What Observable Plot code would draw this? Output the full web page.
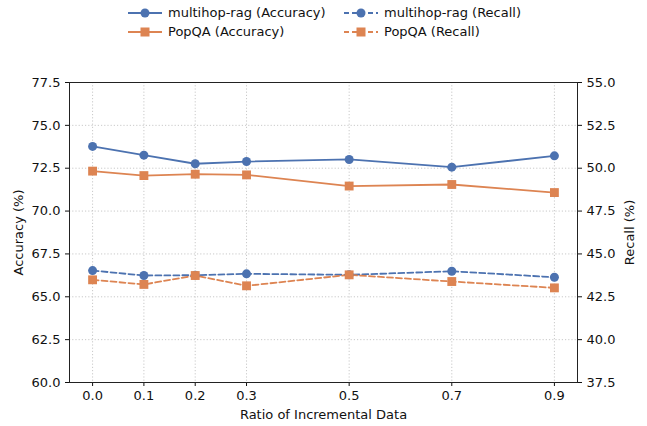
<!DOCTYPE html>
<html>
<head>
<meta charset="utf-8">
<script src="https://cdn.jsdelivr.net/npm/d3@7"></script>
<script src="https://cdn.jsdelivr.net/npm/@observablehq/plot@0.6"></script>
<style>
  body { margin: 0; background: #fff; font-family: "DejaVu Sans", sans-serif; }
  #wrap { position: relative; width: 647px; height: 426px; }
  #legend { position: relative; width: 647px; height: 45px; font-size: 13px; color: #111; }
  .item { position: absolute; display: flex; align-items: center; white-space: nowrap; }
  .item svg { margin-right: 6px; }
</style>
</head>
<body>
<div id="wrap">
  <div id="legend"></div>
  <div id="chart"></div>
</div>
<script>
const ratios = [0, 0.1, 0.2, 0.3, 0.5, 0.7, 0.9];
const mhAcc  = [73.77, 73.26, 72.76, 72.89, 73.01, 72.56, 73.22];
const popAcc = [72.33, 72.07, 72.15, 72.11, 71.46, 71.55, 71.08];
const mhRec  = [44.03, 43.74, 43.76, 43.84, 43.78, 43.99, 43.64];
const popRec = [43.49, 43.22, 43.74, 43.14, 43.78, 43.39, 43.02];
const accTicks = [60, 62.5, 65, 67.5, 70, 72.5, 75, 77.5];
const recTicks = [37.5, 40, 42.5, 45, 47.5, 50, 52.5, 55];
const seriesNames = ["multihop-rag (Accuracy)", "multihop-rag (Recall)", "PopQA (Accuracy)", "PopQA (Recall)"];

const BLUE = "#4c72b0", ORANGE = "#dd8452";
// recall axis is aligned to accuracy axis: 37.5↔60, 55↔77.5
const OFFSET = 22.5;

const rows = (vals, shift) => ratios.map((r, i) => ({x: r, y: vals[i] + shift}));
const mhA = rows(mhAcc, 0), pA = rows(popAcc, 0);
const mhR = rows(mhRec, OFFSET), pR = rows(popRec, OFFSET);

const lineW = 1.8;
const chart = Plot.plot({
  width: 647,
  height: 381,
  marginTop: 37,
  marginBottom: 44,
  marginLeft: 69,
  marginRight: 70,
  style: {fontFamily: "DejaVu Sans, sans-serif", fontSize: "13px", color: "#111"},
  x: {domain: [-0.045, 0.945]},
  y: {domain: [60, 77.5]},
  marks: [
    Plot.gridX(ratios, {stroke: "#bbb", strokeOpacity: 0.8, strokeDasharray: "1.2,2"}),
    Plot.gridY(accTicks, {stroke: "#bbb", strokeOpacity: 0.8, strokeDasharray: "1.2,2"}),
    Plot.axisX({ticks: ratios, tickFormat: d3.format(".1f"), tickSize: 4, label: "Ratio of Incremental Data", labelAnchor: "center", labelArrow: "none", labelOffset: 36, tickPadding: 4}),
    Plot.axisY({ticks: accTicks, tickFormat: d3.format(".1f"), tickSize: 4, anchor: "left", label: "Accuracy (%)", labelAnchor: "center", labelArrow: "none", labelOffset: 56}),
    Plot.axisY({ticks: recTicks.map(d => d + OFFSET), tickFormat: d => (d - OFFSET).toFixed(1), tickSize: 4, anchor: "right", label: "Recall (%)", labelAnchor: "center", labelArrow: "none", labelOffset: 56}),
    Plot.line(mhA, {x: "x", y: "y", stroke: BLUE, strokeWidth: lineW}),
    Plot.line(pA, {x: "x", y: "y", stroke: ORANGE, strokeWidth: lineW}),
    Plot.line(mhR, {x: "x", y: "y", stroke: BLUE, strokeWidth: lineW, strokeDasharray: "6,3"}),
    Plot.line(pR, {x: "x", y: "y", stroke: ORANGE, strokeWidth: lineW, strokeDasharray: "6,3"}),
    Plot.dot(mhA, {x: "x", y: "y", fill: BLUE, r: 4.5, symbol: "circle"}),
    Plot.dot(mhR, {x: "x", y: "y", fill: BLUE, r: 4.5, symbol: "circle"}),
    Plot.dot(pA, {x: "x", y: "y", fill: ORANGE, r: 5, symbol: "square"}),
    Plot.dot(pR, {x: "x", y: "y", fill: ORANGE, r: 5, symbol: "square"}),
    Plot.frame({stroke: "#222", strokeWidth: 1})
  ]
});
document.getElementById("chart").appendChild(chart);

// legend
const legend = document.getElementById("legend");
const items = [
  {name: seriesNames[0], color: BLUE, dash: null, sym: "circle", left: 128, top: 5},
  {name: seriesNames[1], color: BLUE, dash: "5,3", sym: "circle", left: 344, top: 5},
  {name: seriesNames[2], color: ORANGE, dash: null, sym: "square", left: 128, top: 24},
  {name: seriesNames[3], color: ORANGE, dash: "5,3", sym: "square", left: 344, top: 24}
];
for (const it of items) {
  const div = document.createElement("div");
  div.className = "item";
  div.style.left = it.left + "px";
  div.style.top = it.top + "px";
  const w = 34, h = 14;
  const marker = it.sym === "circle"
    ? `<circle cx="${w/2}" cy="${h/2}" r="4.5" fill="${it.color}"/>`
    : `<rect x="${w/2-4.5}" y="${h/2-4.5}" width="9" height="9" fill="${it.color}"/>`;
  div.innerHTML = `<svg width="${w}" height="${h}"><line x1="0" x2="${w}" y1="${h/2}" y2="${h/2}" stroke="${it.color}" stroke-width="1.8" ${it.dash ? `stroke-dasharray="${it.dash}"` : ""}/>${marker}</svg><span>${it.name}</span>`;
  legend.appendChild(div);
}
</script>
</body>
</html>
